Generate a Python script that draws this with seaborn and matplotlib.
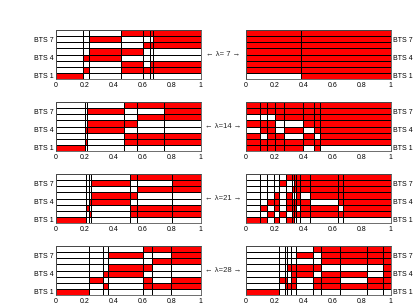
import numpy as np
import matplotlib
matplotlib.use("Agg")
import matplotlib.pyplot as plt
import seaborn as sns
from matplotlib.colors import ListedColormap

lambdas = [7, 14, 21, 28]
bts_ticks = [1, 4, 7]
bts_labels = ["BTS 1", "BTS 4", "BTS 7"]
x_ticks = [0, 0.2, 0.4, 0.6, 0.8, 1]
x_tick_labels = ["0", "0.2", "0.4", "0.6", "0.8", "1"]

# switching instants (x) and on/off state per BTS, rows BTS 1 .. BTS 8
breaks_l7 = [0, 0.19, 0.225, 0.453, 0.6, 0.65, 0.673, 1]
state_l7 = [
    [1, 0, 0, 0, 0, 0, 0],
    [0, 1, 0, 1, 1, 1, 1],
    [0, 0, 0, 1, 0, 1, 1],
    [0, 1, 1, 0, 0, 0, 0],
    [0, 0, 1, 1, 0, 0, 0],
    [0, 0, 0, 0, 1, 1, 1],
    [0, 0, 1, 0, 0, 0, 1],
    [0, 0, 0, 1, 1, 1, 1],
]
breaks_r7 = [0, 0.382, 1]
state_r7 = [
    [0, 1],
    [1, 1],
    [1, 1],
    [1, 1],
    [1, 1],
    [1, 1],
    [1, 1],
    [1, 1],
]

breaks_l14 = [0, 0.198, 0.215, 0.473, 0.563, 0.75, 1]
state_l14 = [
    [1, 0, 0, 0, 0, 0],
    [0, 1, 0, 1, 1, 1],
    [0, 0, 0, 1, 1, 1],
    [0, 1, 1, 0, 0, 0],
    [0, 0, 1, 1, 0, 0],
    [0, 0, 0, 0, 1, 1],
    [0, 0, 1, 0, 0, 1],
    [0, 0, 0, 1, 1, 1],
]
breaks_r14 = [0, 0.095, 0.147, 0.2, 0.263, 0.396, 0.472, 0.513, 1]
state_r14 = [
    [1, 1, 1, 1, 1, 0, 1, 0],
    [1, 1, 1, 1, 1, 1, 1, 1],
    [1, 0, 1, 1, 0, 1, 0, 1],
    [0, 1, 1, 0, 1, 0, 1, 1],
    [1, 1, 1, 0, 0, 1, 1, 1],
    [0, 0, 0, 1, 1, 1, 1, 1],
    [1, 1, 1, 1, 1, 1, 1, 1],
    [1, 1, 1, 1, 1, 1, 1, 1],
]

breaks_l21 = [0, 0.211, 0.228, 0.243, 0.512, 0.563, 0.803, 1]
state_l21 = [
    [1, 0, 0, 0, 0, 0, 0],
    [0, 0, 1, 0, 1, 1, 1],
    [0, 1, 0, 0, 1, 1, 1],
    [0, 0, 1, 1, 0, 0, 0],
    [0, 0, 0, 1, 1, 0, 0],
    [0, 0, 0, 0, 0, 1, 1],
    [0, 0, 0, 1, 0, 0, 1],
    [0, 0, 0, 0, 1, 1, 1],
]
breaks_r21 = [0, 0.1, 0.148, 0.192, 0.23, 0.276, 0.316, 0.333, 0.343,
              0.373, 0.444, 0.638, 0.673, 1]
state_r21 = [
    [1, 1, 0, 1, 0, 1, 1, 0, 0, 0, 0, 0, 0],
    [0, 0, 1, 0, 1, 0, 1, 1, 1, 1, 1, 1, 1],
    [0, 1, 0, 1, 0, 1, 1, 1, 0, 1, 1, 0, 1],
    [0, 0, 1, 1, 0, 1, 1, 1, 1, 1, 0, 1, 1],
    [0, 0, 0, 1, 0, 1, 0, 0, 1, 0, 1, 1, 1],
    [0, 0, 0, 0, 0, 0, 1, 1, 1, 1, 1, 1, 1],
    [0, 0, 0, 0, 1, 0, 0, 1, 1, 1, 1, 1, 1],
    [0, 0, 0, 0, 0, 1, 1, 1, 1, 1, 1, 1, 1],
]

breaks_l28 = [0, 0.225, 0.325, 0.361, 0.6, 0.662, 0.794, 1]
state_l28 = [
    [1, 0, 0, 0, 0, 0, 0],
    [0, 0, 1, 0, 1, 1, 1],
    [0, 1, 0, 0, 1, 0, 1],
    [0, 0, 1, 1, 0, 0, 0],
    [0, 0, 0, 1, 1, 0, 0],
    [0, 0, 0, 0, 0, 1, 1],
    [0, 0, 0, 1, 0, 0, 1],
    [0, 0, 0, 0, 1, 1, 1],
]
breaks_r28 = [0, 0.23, 0.27, 0.285, 0.309, 0.346, 0.462, 0.516, 0.651,
              0.834, 0.949, 1]
state_r28 = [
    [1, 0, 0, 0, 0, 0, 0, 0, 0, 0, 0],
    [0, 0, 1, 1, 1, 0, 1, 1, 1, 1, 1],
    [0, 1, 1, 0, 1, 0, 1, 1, 0, 1, 1],
    [0, 0, 0, 0, 1, 1, 0, 1, 1, 0, 1],
    [0, 0, 0, 1, 1, 1, 1, 0, 0, 0, 1],
    [0, 0, 0, 0, 0, 0, 0, 1, 1, 1, 1],
    [0, 0, 0, 0, 0, 1, 0, 1, 1, 1, 1],
    [0, 0, 0, 0, 0, 0, 1, 1, 1, 1, 1],
]

panels = [
    ((breaks_l7, state_l7), (breaks_r7, state_r7)),
    ((breaks_l14, state_l14), (breaks_r14, state_r14)),
    ((breaks_l21, state_l21), (breaks_r21, state_r21)),
    ((breaks_l28, state_l28), (breaks_r28, state_r28)),
]

sns.set_theme(style="white")
plt.rcParams['font.family'] = ['Liberation Sans', 'DejaVu Sans']

W, H = 415, 304
fig = plt.figure(figsize=(W / 100, H / 100), dpi=100)
cmap = ListedColormap(["white", "#ff0000"])
col_x = [56 / W, 246 / W]
ax_w, ax_h = 144.5 / W, 49 / H
y_edges = np.arange(0.5, 9.0, 1.0)

for i, lam in enumerate(lambdas):
    top = 30 + 72 * i
    bottom = 1 - (top + 49) / H
    for j, (br, st) in enumerate(panels[i]):
        ax = fig.add_axes([col_x[j], bottom, ax_w, ax_h])
        ax.pcolormesh(br, y_edges, np.array(st), cmap=cmap, vmin=0, vmax=1,
                      edgecolors="black", linewidth=0.5)
        ax.set_xlim(0, 1)
        ax.set_ylim(0.5, 8.5)
        ax.set_xticks(x_ticks)
        ax.set_xticklabels(x_tick_labels)
        ax.set_yticks(bts_ticks)
        ax.set_yticklabels(bts_labels)
        ax.tick_params(direction="in", length=2, width=0.5, labelsize=5,
                       pad=2, colors="#222222")
        ax.tick_params(axis="both", labelcolor="black")
        if j == 1:
            ax.yaxis.tick_right()
        for sp in ax.spines.values():
            sp.set_color("#555555")
            sp.set_linewidth(0.6)
    fig.text(223 / W, 1 - (top + 24.5) / H, "\u2190 \u03bb=%2d \u2192" % lam,
             ha="center", va="center", fontsize=5.5)

fig.savefig("out.png", dpi=100)
